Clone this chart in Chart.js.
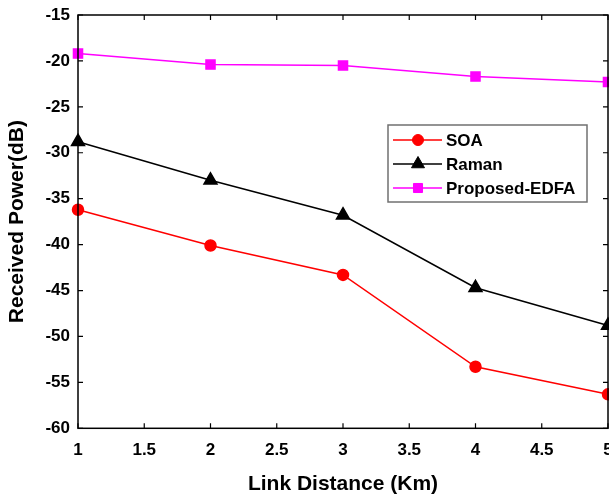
<!DOCTYPE html>
<html>
<head>
<meta charset="utf-8">
<script src="https://cdn.jsdelivr.net/npm/chart.js@4"></script>
<style>
  html, body { margin: 0; padding: 0; background: #fff; }
  #wrap { width: 609px; height: 496px; position: relative; }
</style>
</head>
<body>
<div id="wrap"><canvas id="c" width="609" height="496"></canvas></div>
<script>
// Link distance (Km)
const distances = [1, 2, 3, 4, 5];
// Received power (dB) per amplifier type
const soa = [-36.2, -40.1, -43.3, -53.3, -56.3];
const raman = [-28.8, -33.0, -36.8, -44.7, -48.8];
const edfa = [-19.2, -20.4, -20.5, -21.7, -22.3];

const seriesNames = ['SOA', 'Raman', 'Proposed-EDFA'];
const FONT = '"Liberation Sans", Arial, sans-serif';

const toPoints = vals => distances.map((d, i) => ({ x: d, y: vals[i] }));

// Frame around the plot with inward ticks on all four sides
const framePlugin = {
  id: 'frame',
  afterDatasetsDraw(chart) {
    const { ctx, chartArea: a, scales } = chart;
    ctx.save();
    ctx.strokeStyle = '#000';
    ctx.lineWidth = 1.5;
    ctx.strokeRect(a.left, a.top, a.right - a.left, a.bottom - a.top);
    ctx.lineWidth = 1.2;
    const t = 5;
    ctx.beginPath();
    scales.x.ticks.forEach(tk => {
      const px = scales.x.getPixelForValue(tk.value);
      ctx.moveTo(px, a.bottom); ctx.lineTo(px, a.bottom - t);
      ctx.moveTo(px, a.top); ctx.lineTo(px, a.top + t);
    });
    scales.y.ticks.forEach(tk => {
      const py = scales.y.getPixelForValue(tk.value);
      ctx.moveTo(a.left, py); ctx.lineTo(a.left + t, py);
      ctx.moveTo(a.right, py); ctx.lineTo(a.right - t, py);
    });
    ctx.stroke();
    ctx.restore();
  }
};

// Boxed legend inside the plot area
const boxLegend = {
  id: 'boxLegend',
  afterDraw(chart) {
    const { ctx } = chart;
    const x0 = 388, y0 = 125, w = 199, h = 77;
    ctx.save();
    ctx.fillStyle = '#fff';
    ctx.fillRect(x0, y0, w, h);
    ctx.strokeStyle = '#707070';
    ctx.lineWidth = 1.5;
    ctx.strokeRect(x0, y0, w, h);
    chart.data.datasets.forEach((ds, i) => {
      const y = y0 + 15 + i * 24;
      ctx.strokeStyle = ds.borderColor;
      ctx.lineWidth = ds.borderWidth;
      ctx.beginPath();
      ctx.moveTo(x0 + 5, y);
      ctx.lineTo(x0 + 54, y);
      ctx.stroke();
      ctx.fillStyle = ds.pointBackgroundColor;
      ctx.strokeStyle = ds.pointBackgroundColor;
      ctx.lineWidth = 1;
      Chart.helpers.drawPoint(ctx, {
        pointStyle: ds.pointStyle,
        radius: ds.pointRadius,
        borderWidth: 1
      }, x0 + 30, y);
      ctx.fillStyle = '#000';
      ctx.font = 'bold 17px ' + FONT;
      ctx.textBaseline = 'middle';
      ctx.textAlign = 'left';
      ctx.fillText(ds.label, x0 + 58, y + 1);
    });
    ctx.restore();
  }
};

new Chart(document.getElementById('c'), {
  type: 'line',
  data: {
    datasets: [
      {
        label: seriesNames[0], data: toPoints(soa),
        borderColor: '#ff0000', backgroundColor: '#ff0000',
        pointBackgroundColor: '#ff0000', pointBorderColor: '#ff0000',
        pointStyle: 'circle', pointRadius: 5.5, borderWidth: 1.5
      },
      {
        label: seriesNames[1], data: toPoints(raman),
        borderColor: '#000000', backgroundColor: '#000000',
        pointBackgroundColor: '#000000', pointBorderColor: '#000000',
        pointStyle: 'triangle', pointRadius: 7.5, borderWidth: 1.5
      },
      {
        label: seriesNames[2], data: toPoints(edfa),
        borderColor: '#ff00ff', backgroundColor: '#ff00ff',
        pointBackgroundColor: '#ff00ff', pointBorderColor: '#ff00ff',
        pointStyle: 'rect', pointRadius: 6.4, borderWidth: 1.5
      }
    ]
  },
  options: {
    responsive: false,
    animation: false,
    devicePixelRatio: 1,
    clip: false,
    layout: { autoPadding: false, padding: { top: 15, right: 1, left: 0, bottom: 0 } },
    elements: { line: { tension: 0 }, point: { borderWidth: 1 } },
    plugins: { legend: { display: false }, tooltip: { enabled: false } },
    scales: {
      x: {
        type: 'linear', min: 1, max: 5,
        grid: { display: false, drawTicks: false },
        border: { display: false },
        ticks: {
          stepSize: 0.5, color: '#000', padding: 12,
          font: { family: FONT, size: 17, weight: 'bold' },
          maxRotation: 0, autoSkip: false,
          callback: v => String(v)
        },
        title: {
          display: true, text: 'Link Distance (Km)', color: '#000',
          font: { family: FONT, size: 21, weight: 'bold' },
          padding: { top: 0, bottom: -1 }
        },
        afterFit(s) { s.height = 67.7; s.paddingLeft = 0; s.paddingRight = 0; }
      },
      y: {
        min: -60, max: -15,
        grid: { display: false, drawTicks: false },
        border: { display: false },
        ticks: {
          stepSize: 5, color: '#000', padding: 8,
          font: { family: FONT, size: 17, weight: 'bold' },
          callback: v => String(v)
        },
        title: {
          display: true, text: 'Received Power(dB)', color: '#000',
          font: { family: FONT, size: 21, weight: 'bold' },
          padding: { top: 5, bottom: 0 }
        },
        afterFit(s) { s.width = 78; s.paddingTop = 0; s.paddingBottom = 0; }
      }
    }
  },
  plugins: [framePlugin, boxLegend]
});
</script>
</body>
</html>
